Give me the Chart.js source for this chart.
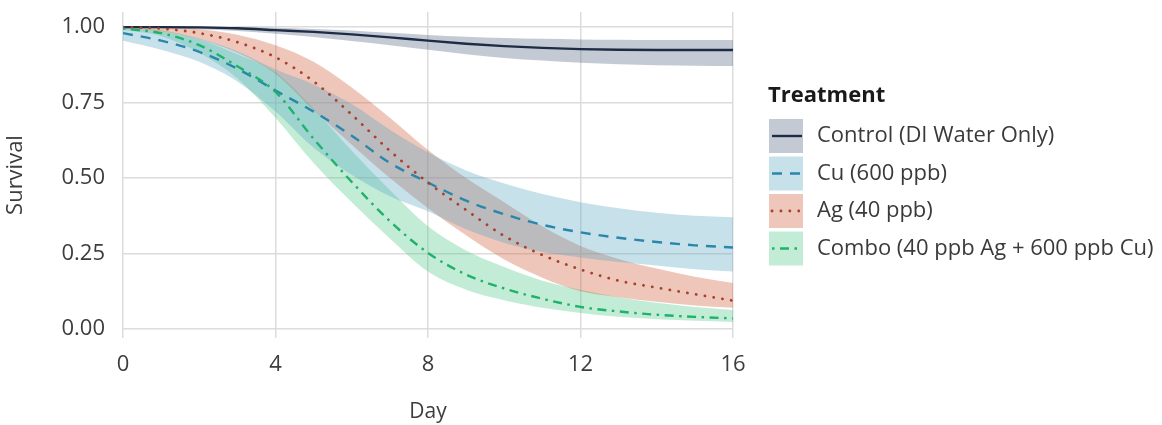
<!DOCTYPE html>
<html>
<head>
<meta charset="utf-8">
<script src="https://cdn.jsdelivr.net/npm/chart.js@4.4.1/dist/chart.umd.min.js"></script>
<style>
  html, body { margin: 0; padding: 0; background: #ffffff; }
  #wrap { width: 1162px; height: 425px; position: relative; }
</style>
</head>
<body>
<div id="wrap"><canvas id="chart-survival"></canvas></div>
<script>
// Dias de observacion
const days = [0, 1, 2, 3, 4, 5, 6, 7, 8, 9, 10, 11, 12, 13, 14, 15, 16];
const dayTicks = [0, 4, 8, 12, 16];
const survivalTicks = [0, 0.25, 0.5, 0.75, 1];

const treatmentNames = ['Control (DI Water Only)', 'Cu (600 ppb)', 'Ag (40 ppb)', 'Combo (40 ppb Ag + 600 ppb Cu)'];

// Control
const controlMean = [1.000, 1.000, 0.999, 0.996, 0.990, 0.984, 0.976, 0.966, 0.955, 0.945, 0.937, 0.931, 0.927, 0.925, 0.924, 0.924, 0.924];
const controlLow  = [0.998, 0.996, 0.993, 0.987, 0.978, 0.967, 0.954, 0.940, 0.925, 0.910, 0.898, 0.889, 0.882, 0.877, 0.874, 0.872, 0.871];
const controlHigh = [1.000, 1.000, 1.000, 1.000, 0.998, 0.994, 0.989, 0.981, 0.974, 0.968, 0.964, 0.961, 0.959, 0.958, 0.957, 0.957, 0.957];

// Cu
const cuMean = [0.980, 0.955, 0.918, 0.862, 0.790, 0.720, 0.640, 0.550, 0.485, 0.425, 0.380, 0.345, 0.320, 0.302, 0.288, 0.277, 0.270];
const cuLow  = [0.955, 0.925, 0.885, 0.820, 0.720, 0.600, 0.510, 0.440, 0.390, 0.330, 0.285, 0.255, 0.237, 0.222, 0.210, 0.198, 0.190];
const cuHigh = [0.998, 0.985, 0.962, 0.920, 0.860, 0.810, 0.745, 0.660, 0.585, 0.525, 0.482, 0.447, 0.420, 0.400, 0.385, 0.375, 0.370];

// Ag
const agMean = [1.000, 0.995, 0.980, 0.950, 0.900, 0.820, 0.710, 0.590, 0.485, 0.394, 0.308, 0.245, 0.197, 0.160, 0.137, 0.115, 0.094];
const agLow  = [0.995, 0.985, 0.960, 0.915, 0.845, 0.725, 0.610, 0.500, 0.400, 0.310, 0.230, 0.170, 0.125, 0.105, 0.090, 0.078, 0.070];
const agHigh = [1.000, 1.000, 0.993, 0.975, 0.940, 0.885, 0.800, 0.700, 0.593, 0.500, 0.420, 0.340, 0.275, 0.232, 0.200, 0.173, 0.152];

// Combo
const comboMean = [0.995, 0.980, 0.940, 0.870, 0.785, 0.630, 0.487, 0.357, 0.252, 0.180, 0.134, 0.100, 0.073, 0.058, 0.047, 0.040, 0.035];
const comboLow  = [0.990, 0.970, 0.915, 0.830, 0.700, 0.550, 0.420, 0.300, 0.190, 0.130, 0.095, 0.070, 0.053, 0.040, 0.032, 0.027, 0.023];
const comboHigh = [1.000, 0.990, 0.960, 0.910, 0.850, 0.730, 0.590, 0.460, 0.340, 0.260, 0.205, 0.160, 0.130, 0.105, 0.087, 0.073, 0.063];

const estilos = [
    { line: '#1d2b45', band: 'rgba(86, 103, 132, 0.35)', dash: [], width: 2.4, cap: 'butt' },
    { line: '#2a87ab', band: 'rgba(92, 169, 195, 0.35)', dash: [10, 8], width: 2.4, cap: 'butt' },
    { line: '#a8402f', band: 'rgba(209, 92, 58, 0.35)', dash: [0.1, 8.8], width: 2.8, cap: 'round' },
    { line: '#1fb26b', band: 'rgba(83, 201, 138, 0.35)', dash: [2.5, 5.5, 9, 5.5], width: 2.4, cap: 'butt' },
];

const series = [
    { mean: controlMean, low: controlLow, high: controlHigh },
    { mean: cuMean, low: cuLow, high: cuHigh },
    { mean: agMean, low: agLow, high: agHigh },
    { mean: comboMean, low: comboLow, high: comboHigh },
];

const toPoints = arr => arr.map((v, i) => ({ x: days[i], y: v }));

// Bandas primero (debajo), lineas despues
const datasets = [];
series.forEach((s, i) => {
    const lowIndex = datasets.length;
    datasets.push({
        label: treatmentNames[i] + ' low',
        data: toPoints(s.low),
        borderWidth: 0,
        pointRadius: 0,
        fill: false,
        order: 10,
    });
    datasets.push({
        label: treatmentNames[i] + ' high',
        data: toPoints(s.high),
        borderWidth: 0,
        pointRadius: 0,
        backgroundColor: estilos[i].band,
        fill: { target: lowIndex },
        order: 10,
    });
});
series.forEach((s, i) => {
    datasets.push({
        label: treatmentNames[i],
        data: toPoints(s.mean),
        borderColor: estilos[i].line,
        borderWidth: estilos[i].width,
        borderDash: estilos[i].dash,
        borderCapStyle: estilos[i].cap,
        pointRadius: 0,
        fill: false,
        order: 4 - i,
    });
});

const FONT = "'Open Sans', sans-serif";

const legendaTratamiento = {
    id: 'legendaTratamiento',
    afterDraw(chart) {
        const ctx = chart.ctx;
        const x0 = chart.chartArea.right + 36;
        ctx.save();
        ctx.textBaseline = 'middle';
        ctx.textAlign = 'left';
        ctx.fillStyle = '#1a1a1a';
        ctx.font = 'bold 22px ' + FONT;
        ctx.fillText('Treatment', x0 - 1, 96);
        treatmentNames.forEach((name, i) => {
            const y = 119 + i * 37.5;
            ctx.fillStyle = estilos[i].band;
            ctx.fillRect(x0, y, 34, 34);
            ctx.strokeStyle = estilos[i].line;
            ctx.lineWidth = estilos[i].width;
            ctx.lineCap = estilos[i].cap;
            ctx.setLineDash(estilos[i].dash);
            ctx.beginPath();
            ctx.moveTo(x0 + 3, y + 17);
            ctx.lineTo(x0 + 33, y + 17);
            ctx.stroke();
            ctx.setLineDash([]);
            ctx.fillStyle = '#3a3a3a';
            ctx.font = '22px ' + FONT;
            ctx.fillText(name, x0 + 48, y + 17);
        });
        ctx.restore();
    }
};

const ctx = document.getElementById('chart-survival').getContext('2d');
new Chart(ctx, {
    type: 'line',
    data: { datasets: datasets },
    options: {
        responsive: true,
        maintainAspectRatio: false,
        animation: false,
        layout: { padding: { top: 12, right: 429, left: 0, bottom: 0 } },
        elements: { line: { cubicInterpolationMode: 'monotone' } },
        scales: {
            x: {
                type: 'linear',
                min: 0,
                max: 16,
                border: { display: false },
                grid: { color: '#dcdcdc', lineWidth: 1.5, drawTicks: false },
                afterBuildTicks: axis => { axis.ticks = dayTicks.map(v => ({ value: v })); },
                afterFit: axis => {
                    axis.height = 87;
                    axis.paddingLeft = 0;
                    axis.paddingRight = 0;
                },
                ticks: {
                    padding: 14,
                    color: '#3d3d3d',
                    font: { family: FONT, size: 22 },
                },
                title: {
                    display: true,
                    text: 'Day',
                    color: '#3d3d3d',
                    font: { family: FONT, size: 21 },
                    padding: { top: 0, bottom: 0 },
                },
            },
            y: {
                type: 'linear',
                min: -0.03,
                max: 1.05,
                border: { display: false },
                grid: { color: '#dcdcdc', lineWidth: 1.5, drawTicks: false },
                afterBuildTicks: axis => { axis.ticks = survivalTicks.map(v => ({ value: v })); },
                afterFit: axis => {
                    axis.width = 123;
                    axis.paddingTop = 0;
                    axis.paddingBottom = 0;
                },
                ticks: {
                    padding: 18,
                    color: '#3d3d3d',
                    font: { family: FONT, size: 22 },
                    callback: v => v.toFixed(2),
                },
                title: {
                    display: true,
                    text: 'Survival',
                    color: '#3d3d3d',
                    font: { family: FONT, size: 22 },
                    padding: { top: 3, bottom: 0 },
                },
            },
        },
        plugins: {
            legend: { display: false },
            tooltip: { enabled: false },
            filler: { drawTime: 'beforeDatasetsDraw' },
        },
    },
    plugins: [legendaTratamiento],
});
</script>
</body>
</html>
